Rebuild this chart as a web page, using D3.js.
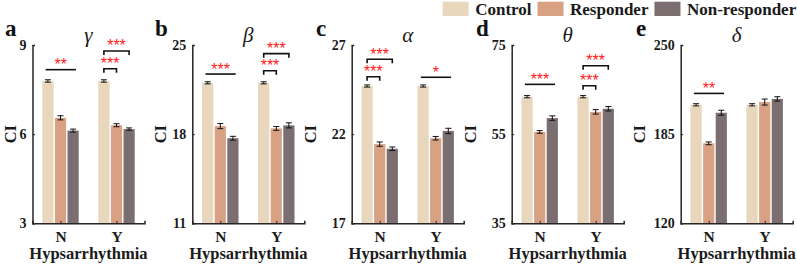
<!DOCTYPE html>
<html>
<head>
<meta charset="utf-8">
<script src="https://cdn.jsdelivr.net/npm/d3@7"></script>
<style>
  html, body { margin: 0; padding: 0; background: #fff; }
  svg { display: block; }
  svg text { font-family: "Liberation Serif", "Times New Roman", Times, serif; }
  svg text.stars { font-family: "Liberation Sans", Arial, sans-serif; }
</style>
</head>
<body>
<svg id="chart" width="797" height="265"></svg>
<script>
// ---------------- DATA ----------------
const categories = ["N", "Y"];
const groupNames = ["Control", "Responder", "Non-responder"];
const bandTitles = ["γ", "β", "α", "θ", "δ"];
const panelLetters = ["a", "b", "c", "d", "e"];
const yAxisLabel = "CI";
const xAxisLabel = "Hypsarrhythmia";
const yTickValues = [[3, 6, 9], [11, 18, 25], [17, 22, 27], [35, 55, 75], [120, 185, 250]];

// values per panel: [N, Y]
const controlValues      = [[7.79, 7.79], [22.03, 22.03], [24.70, 24.70], [63.4, 63.4], [206.4, 206.4]];
const responderValues    = [[6.55, 6.30], [18.63, 18.45], [21.44, 21.77], [55.5, 60.0], [178.3, 208.4]];
const nonResponderValues = [[6.12, 6.17], [17.68, 18.69], [21.18, 22.18], [58.6, 60.7], [200.6, 210.7]];

const controlErrors      = [[0.04, 0.04], [0.08, 0.08], [0.06, 0.06], [0.25, 0.25], [0.8, 0.8]];
const responderErrors    = [[0.07, 0.05], [0.20, 0.15], [0.12, 0.10], [0.30, 0.50], [1.0, 2.2]];
const nonResponderErrors = [[0.05, 0.04], [0.15, 0.20], [0.10, 0.15], [0.50, 0.50], [1.8, 1.6]];

// significance marks: panel, category, kind, compared groups, stars, level (data units)
const sigMarks = [
  { panel: 0, cat: "N", kind: "line",    from: 0, to: 2, stars: "**",  level: 8.17 },
  { panel: 0, cat: "Y", kind: "bracket", from: 0, to: 1, stars: "***", level: 8.20 },
  { panel: 0, cat: "Y", kind: "bracket", from: 0, to: 2, stars: "***", level: 8.80 },
  { panel: 1, cat: "N", kind: "line",    from: 0, to: 2, stars: "***", level: 22.72 },
  { panel: 1, cat: "Y", kind: "bracket", from: 0, to: 1, stars: "***", level: 22.98 },
  { panel: 1, cat: "Y", kind: "bracket", from: 0, to: 2, stars: "***", level: 24.32 },
  { panel: 2, cat: "N", kind: "bracket", from: 0, to: 1, stars: "***", level: 25.22 },
  { panel: 2, cat: "N", kind: "bracket", from: 0, to: 2, stars: "***", level: 26.20 },
  { panel: 2, cat: "Y", kind: "line",    from: 0, to: 2, stars: "*",   level: 25.19 },
  { panel: 3, cat: "N", kind: "line",    from: 0, to: 2, stars: "***", level: 66.17 },
  { panel: 3, cat: "Y", kind: "bracket", from: 0, to: 1, stars: "***", level: 65.85 },
  { panel: 3, cat: "Y", kind: "bracket", from: 0, to: 2, stars: "***", level: 70.35 },
  { panel: 4, cat: "N", kind: "line",    from: 0, to: 2, stars: "**",  level: 214.7 }
];

// ---------------- LAYOUT / STYLE ----------------
const colors = ["#e8d6bd", "#d9a183", "#7b6e70"];
const panelLeft = [32.5, 192.3, 351.7, 511.7, 680.7];
const panelWidth = 112;
const plotTop = 45, plotBottom = 223.3;
const letterX = [5, 155, 316, 476, 636];
const ylabelOffset = [16.5, 26.5, 35.7, 35.7, 35.7];
const barOffsets = [-0.225, 0, 0.225];
const barWidthUnits = 0.2;
const axisColor = "#262626";

const svg = d3.select("#chart");
const seriesValues = [controlValues, responderValues, nonResponderValues];
const seriesErrors = [controlErrors, responderErrors, nonResponderErrors];

// ---------------- LEGEND ----------------
const legend = svg.append("g");
let lx = 442.7;
groupNames.forEach((name, i) => {
  legend.append("rect")
    .attr("x", lx).attr("y", 1.7).attr("width", 26).attr("height", 14.3)
    .attr("fill", colors[i]);
  const t = legend.append("text")
    .attr("x", lx + 32.5).attr("y", 15)
    .attr("font-weight", "bold").attr("font-size", 17)
    .attr("fill", "#1a1a1a")
    .text(name);
  lx = lx + 32.5 + t.node().getComputedTextLength() + 6;
});

// ---------------- PANELS ----------------
bandTitles.forEach((title, p) => {
  const x = d3.scaleLinear().domain([0.5, 2.5]).range([panelLeft[p], panelLeft[p] + panelWidth]);
  const ticks = yTickValues[p];
  const y = d3.scaleLinear().domain([ticks[0], ticks[ticks.length - 1]]).range([plotBottom, plotTop]);
  const g = svg.append("g");
  const catPos = c => categories.indexOf(c) + 1;
  const unit = x(1) - x(0);

  // bars
  categories.forEach((cat, ci) => {
    groupNames.forEach((gname, si) => {
      const v = seriesValues[si][p][ci];
      const e = seriesErrors[si][p][ci];
      const cx = x(ci + 1 + barOffsets[si]);
      const w = barWidthUnits * unit;
      g.append("rect")
        .attr("x", cx - w / 2).attr("y", y(v))
        .attr("width", w).attr("height", y(ticks[0]) - y(v))
        .attr("fill", colors[si]);
      const eb = g.append("g").attr("stroke", "#111").attr("stroke-width", 1);
      eb.append("line").attr("x1", cx).attr("x2", cx).attr("y1", y(v - e)).attr("y2", y(v + e));
      eb.append("line").attr("x1", cx - 3).attr("x2", cx + 3).attr("y1", y(v - e)).attr("y2", y(v - e));
      eb.append("line").attr("x1", cx - 3).attr("x2", cx + 3).attr("y1", y(v + e)).attr("y2", y(v + e));
    });
  });

  // axes
  const yAxis = d3.axisLeft(y).tickValues(ticks).tickSize(-2.5).tickPadding(6).tickFormat(d3.format("d"));
  const ya = g.append("g").attr("transform", `translate(${panelLeft[p]},0)`).call(yAxis);
  ya.attr("font-family", null);
  ya.select(".domain").attr("stroke", axisColor).attr("stroke-width", 1.5);
  ya.selectAll(".tick line").attr("stroke", axisColor).attr("stroke-width", 1);
  ya.selectAll(".tick text")
    .attr("font-weight", "bold").attr("font-size", 14).attr("fill", "#1a1a1a");

  const xAxis = d3.axisBottom(x).tickValues([1, 2]).tickSize(-2.5).tickPadding(8)
    .tickFormat(d => categories[d - 1]);
  const xa = g.append("g").attr("transform", `translate(0,${plotBottom})`).call(xAxis);
  xa.attr("font-family", null);
  xa.select(".domain").attr("stroke", axisColor).attr("stroke-width", 1.5);
  xa.selectAll(".tick line").attr("stroke", axisColor).attr("stroke-width", 1);
  xa.selectAll(".tick text")
    .attr("font-weight", "bold").attr("font-size", 15.5).attr("fill", "#1a1a1a");

  // axis labels
  const midX = panelLeft[p] + panelWidth / 2;
  g.append("text")
    .attr("x", midX).attr("y", 258.5)
    .attr("text-anchor", "middle")
    .attr("font-weight", "bold").attr("font-size", 16.5).attr("fill", "#1a1a1a")
    .text(xAxisLabel);
  g.append("text")
    .attr("transform", `translate(${panelLeft[p] - ylabelOffset[p]},${(plotTop + plotBottom) / 2}) rotate(-90)`)
    .attr("text-anchor", "middle")
    .attr("font-weight", "bold").attr("font-size", 16.5).attr("fill", "#1a1a1a")
    .text(yAxisLabel);

  // title (band)
  g.append("text")
    .attr("x", midX).attr("y", 42)
    .attr("text-anchor", "middle")
    .attr("font-style", "italic").attr("font-size", 21).attr("fill", "#1a1a1a")
    .text(title);

  // panel letter
  g.append("text")
    .attr("x", letterX[p]).attr("y", 35.5)
    .attr("font-weight", "bold").attr("font-size", 23).attr("fill", "#111")
    .text(panelLetters[p]);

  // significance marks
  sigMarks.filter(m => m.panel === p).forEach(m => {
    const c = catPos(m.cat);
    const ly = y(m.level);
    let x1, x2;
    if (m.kind === "line") {
      x1 = x(c - 0.265); x2 = x(c + 0.275);
      g.append("line").attr("x1", x1).attr("x2", x2).attr("y1", ly).attr("y2", ly)
        .attr("stroke", "#111").attr("stroke-width", 1.6);
    } else {
      x1 = x(c + barOffsets[m.from]); x2 = x(c + barOffsets[m.to]);
      g.append("path")
        .attr("d", `M${x1},${ly + 4}V${ly}H${x2}V${ly + 4}`)
        .attr("fill", "none").attr("stroke", "#111").attr("stroke-width", 1.6);
    }
    g.append("text")
      .attr("class", "stars")
      .attr("x", (x1 + x2) / 2).attr("y", ly + 0.5)
      .attr("text-anchor", "middle")
      .attr("font-size", 16)
      .attr("fill", "#ff1a1a")
      .text(m.stars);
  });
});
</script>
</body>
</html>
